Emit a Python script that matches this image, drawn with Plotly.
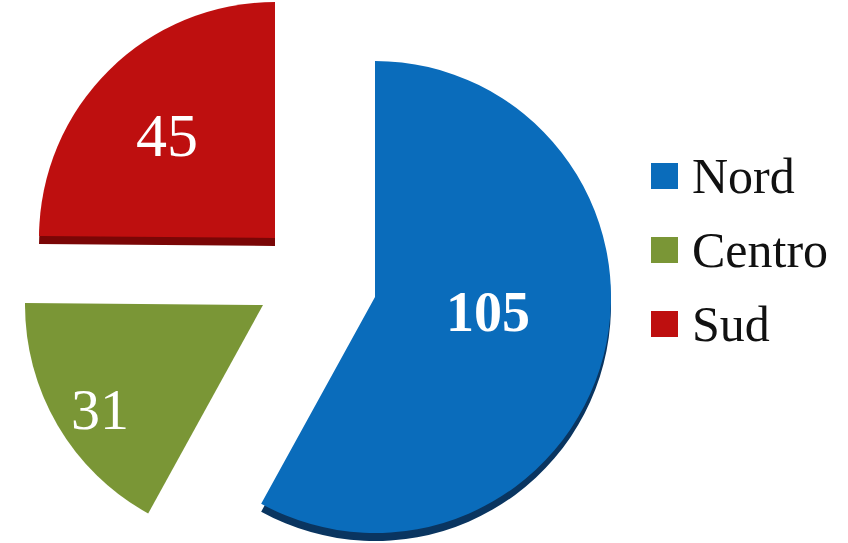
import plotly.graph_objects as go

# ---- data ----
labels = ["Nord", "Centro", "Sud"]
values = [105, 31, 45]
colors = ["#0A6CBB", "#7A9636", "#BE0F0F"]
edge_colors = ["#0A3560", "#4F6324", "#7A0606"]
label_sizes = [56, 58, 62]
label_weights = ["bold", "normal", "normal"]

# ---- layout geometry (pixels) ----
W, H = 848, 543
radius = [236, 238, 236]
apex = [(375, 297), (263, 305), (275, 238)]     # exploded slice apex per category
label_offset = [(113, 15), (-163, 104), (-108, -103)]  # value label offset from apex
depth = 8
SERIF = "Liberation Serif, DejaVu Serif, serif"


def clamp(v):
    return max(0.0, min(1.0, v))


def dom(cx, cy, r):
    return dict(x=[clamp((cx - r) / W), clamp((cx + r) / W)],
                y=[clamp(1 - (cy + r) / H), clamp(1 - (cy - r) / H)])


fig = go.Figure()

# 3D side (thickness) of slices
for i in (0, 2):
    cx, cy = apex[i]
    fig.add_trace(go.Pie(
        labels=labels, values=values, sort=False, direction="clockwise", rotation=0,
        domain=dom(cx, cy + depth, radius[i]),
        marker=dict(colors=[edge_colors[j] if j == i else "rgba(0,0,0,0)" for j in range(len(labels))],
                    line=dict(width=0)),
        textinfo="none", showlegend=False, hoverinfo="skip"))

# top faces
for i in range(len(labels)):
    cx, cy = apex[i]
    fig.add_trace(go.Pie(
        labels=labels, values=values, sort=False, direction="clockwise", rotation=0,
        domain=dom(cx, cy, radius[i]),
        marker=dict(colors=[colors[j] if j == i else "rgba(0,0,0,0)" for j in range(len(labels))],
                    line=dict(width=0)),
        textinfo="none", showlegend=False, hoverinfo="label+value"))
    dx, dy = label_offset[i]
    fig.add_annotation(xref="paper", yref="paper", x=(cx + dx) / W, y=1 - (cy + dy) / H,
                       xanchor="center", yanchor="middle", text=str(values[i]), showarrow=False,
                       font=dict(family=SERIF, size=label_sizes[i], color="white",
                                 weight=label_weights[i]))

# legend (custom squares + text)
leg_y = [176, 250, 324]
for i, lab in enumerate(labels):
    y = leg_y[i]
    fig.add_shape(type="rect", xref="paper", yref="paper",
                  x0=651 / W, x1=678 / W, y0=1 - (y + 13) / H, y1=1 - (y - 13) / H,
                  fillcolor=colors[i], line=dict(width=0))
    fig.add_annotation(xref="paper", yref="paper", x=690 / W, y=1 - y / H,
                       xanchor="left", yanchor="middle", text=lab, showarrow=False,
                       font=dict(family=SERIF, size=50, color="#111111"))

fig.update_layout(width=W, height=H, margin=dict(l=0, r=0, t=0, b=0),
                  paper_bgcolor="white", plot_bgcolor="white", showlegend=False)

fig.write_html("out.html", config={"displayModeBar": False},
               post_script="document.body.style.margin='0px';")
